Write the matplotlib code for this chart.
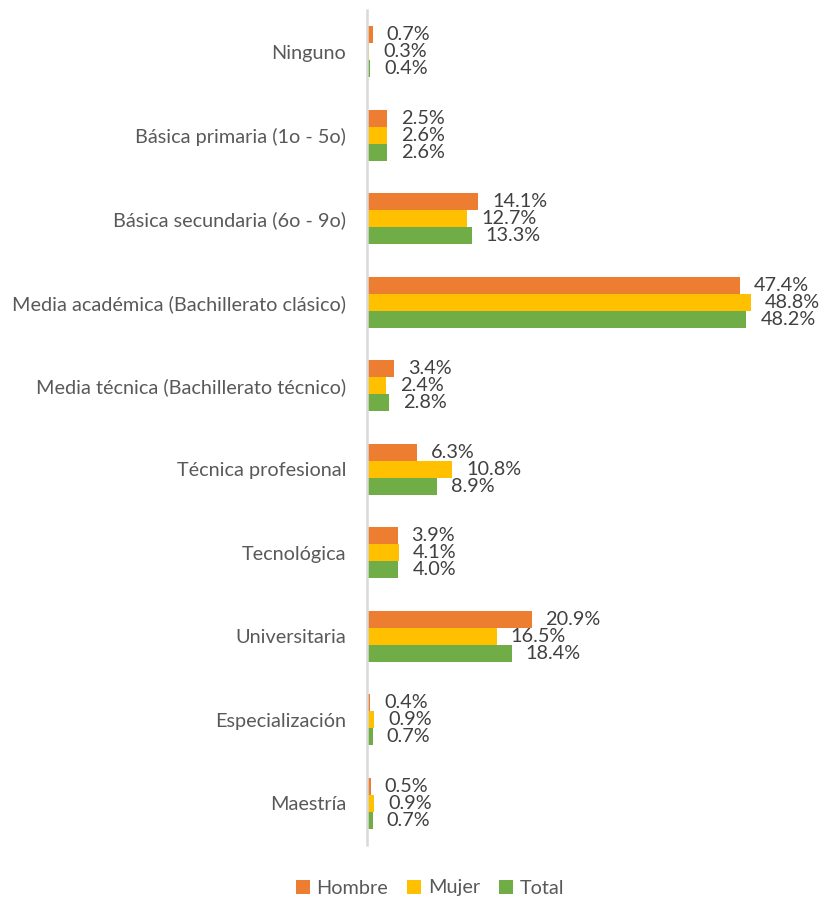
import numpy as np
import matplotlib
matplotlib.use("Agg")
from matplotlib import pyplot as plt

plt.rcParams['font.family'] = ['Lato', 'DejaVu Sans']

categorias = ['Ninguno', 'Básica primaria (1o - 5o)', 'Básica secundaria (6o - 9o)',
              'Media académica (Bachillerato clásico)', 'Media técnica (Bachillerato técnico)',
              'Técnica profesional', 'Tecnológica', 'Universitaria', 'Especialización', 'Maestría']
hombre = [0.7, 2.5, 14.1, 47.4, 3.4, 6.3, 3.9, 20.9, 0.4, 0.5]
mujer = [0.3, 2.6, 12.7, 48.8, 2.4, 10.8, 4.1, 16.5, 0.9, 0.9]
total = [0.4, 2.6, 13.3, 48.2, 2.8, 8.9, 4.0, 18.4, 0.7, 0.7]
series = [('Hombre', hombre, '#ED7D31'), ('Mujer', mujer, '#FFC000'), ('Total', total, '#70AD47')]

fig = plt.figure(figsize=(8.22, 8.99), dpi=100)
ax = fig.add_axes([367/822, 54/899, 433/822, 835/899])

y = np.arange(len(categorias))
h = 0.205
for i, (nombre, vals, color) in enumerate(series):
    pos = y + (i - 1) * h
    bars = ax.barh(pos, vals, height=h, color=color, label=nombre)
    for b, v in zip(bars, vals):
        ax.annotate(f'{v:.1f}%', (b.get_width(), b.get_y() + h / 2),
                    xytext=(10, 0), textcoords='offset points',
                    ha='left', va='center', fontsize=14.3, color='#404040')

ax.set_ylim(len(categorias) - 0.5, -0.5)
ax.set_xlim(0, 55)
ax.set_yticks(y)
ax.set_yticklabels(categorias, fontsize=14.3, color='#595959')
ax.tick_params(axis='y', length=0, pad=15)
ax.set_xticks([])
for s in ['top', 'right', 'bottom']:
    ax.spines[s].set_visible(False)
ax.spines['left'].set_color('#D9D9D9')
ax.spines['left'].set_linewidth(1.8)

leg = fig.legend(loc='center', bbox_to_anchor=(430/822, 1 - 888/899), ncol=3, frameon=False,
                 fontsize=14.3, handlelength=0.7, handleheight=0.7, handletextpad=0.35,
                 columnspacing=0.95)
for t in leg.get_texts():
    t.set_color('#595959')

fig.savefig('out.png', dpi=100)
